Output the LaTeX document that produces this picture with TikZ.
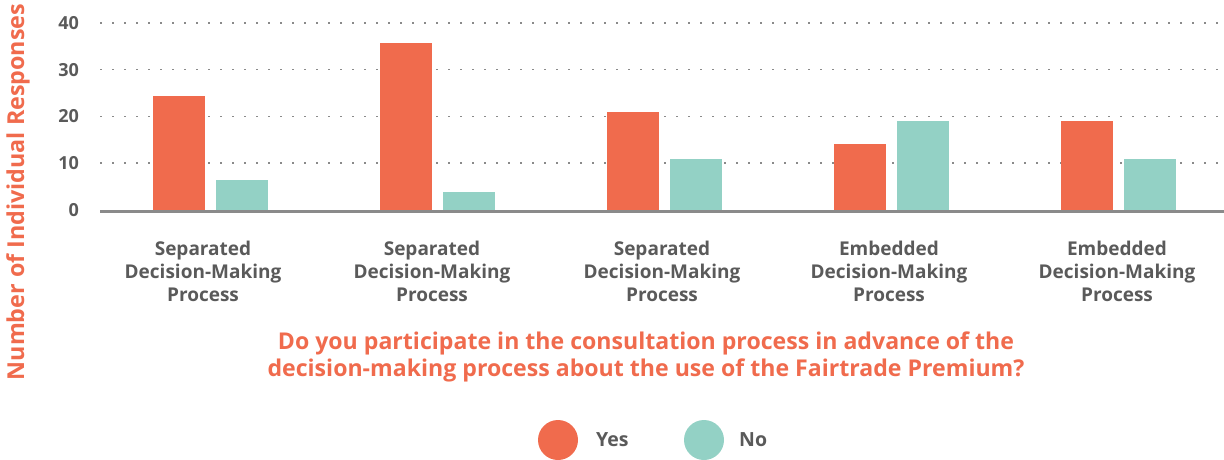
\documentclass[tikz,border=0pt]{standalone}
\usepackage{fontspec}
\setmainfont{Open Sans}
\definecolor{yescol}{HTML}{F06B4D}
\definecolor{nocol}{HTML}{93D1C5}
\definecolor{txtgray}{HTML}{5A5A5A}
\definecolor{gridgray}{HTML}{8A8A8A}
\begin{document}
\begin{tikzpicture}[x=1pt,y=-1pt,
  grid/.style={gridgray,line width=1.6pt,dash pattern=on 1.6pt off 10.4pt},
  ticklbl/.style={anchor=east,text=txtgray,font=\fontsize{18}{20}\selectfont\bfseries,inner sep=0pt},
  catlbl/.style={align=center,text=txtgray,font=\fontsize{19}{23}\selectfont\bfseries,inner sep=0pt,anchor=north},
  yesbar/.style={fill=yescol,draw=none},
  nobar/.style={fill=nocol,draw=none},
  leglbl/.style={anchor=west,text=txtgray,font=\fontsize{19.5}{22}\selectfont\bfseries,inner sep=0pt}]
\useasboundingbox (0,0) rectangle (1224,459);
% grid
\foreach \v in {10,20,30,40}{
  \draw[grid] (100,{210-4.68*\v}) -- (1224,{210-4.68*\v});
}
\foreach \v in {0,10,20,30,40}{
  \node[ticklbl] (t\v) at (79,{210-4.68*\v}) {\v};
}
% bars
\foreach \g/\y/\n in {153/24.3/6.4, 380/35.6/3.9, 607/20.9/10.9, 834/14.1/19.0, 1061/19.0/10.9}{
  \fill[yesbar] (\g,210) rectangle ({\g+52},{210-4.68*\y});
  \fill[nobar] ({\g+63},210) rectangle ({\g+115},{210-4.68*\n});
}
% baseline
\draw[gridgray,line width=2.4pt] (100,211.5) -- (1224,211.5);
% category labels
\node[catlbl] (c1) at (203,241) {Separated\\Decision-Making\\Process};
\node[catlbl] (c2) at (432,241) {Separated\\Decision-Making\\Process};
\node[catlbl] (c3) at (662,241) {Separated\\Decision-Making\\Process};
\node[catlbl] (c4) at (889,241) {Embedded\\Decision-Making\\Process};
\node[catlbl] (c5) at (1117,241) {Embedded\\Decision-Making\\Process};
% y title
\node[rotate=90,text=yescol,font=\fontsize{23.3}{26}\selectfont\bfseries,inner sep=0pt] (ytitle) at (18,192) {Number of Individual Responses};
% x title
\node[align=center,text=yescol,font=\fontsize{23.1}{27}\selectfont\bfseries,inner sep=0pt,anchor=north] (xtitle) at (646,332) {Do you participate in the consultation process in advance of the\\decision-making process about the use of the Fairtrade Premium?};
% legend
\fill[yescol] (558,440) circle (20);
\node[leglbl] (lyes) at (596,440) {Yes};
\fill[nocol] (704,440) circle (20);
\node[leglbl] (lno) at (739,440) {No};
\end{tikzpicture}
\end{document}
